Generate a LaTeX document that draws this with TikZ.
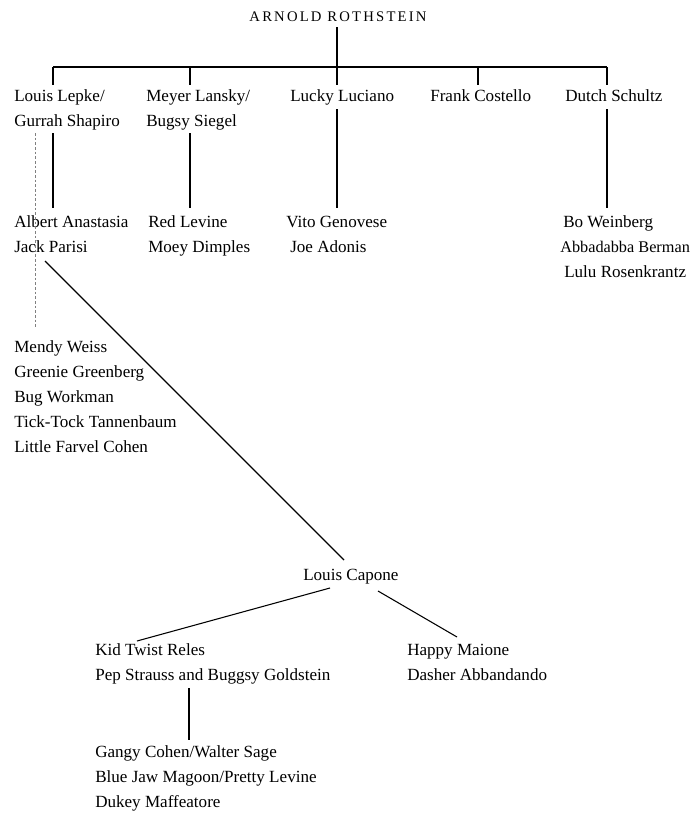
\documentclass[tikz,border=0pt]{standalone}
\usepackage{fontspec}
\setmainfont{Liberation Serif}
\begin{document}
\begin{tikzpicture}[x=0.75pt,y=-0.75pt,
  nm/.style={anchor=base west,inner sep=0pt,font=\fontsize{12.8}{15}\selectfont},
  ln/.style={line width=0.8pt},
  dsh/.style={gray,dashed,line width=0.5pt,dash pattern=on 2pt off 1.5pt}]
\useasboundingbox (0,0) rectangle (694,814);
% head
\node[anchor=base,inner sep=0pt,font=\fontsize{11}{13}\selectfont\addfontfeature{LetterSpace=15}] (arnold) at (338,21) {ARNOLD ROTHSTEIN};
% row 1
\node[nm] (lepkeA) at (14,101) {Louis Lepke/};
\node[nm] (lepkeB) at (14,126) {Gurrah Shapiro};
\node[nm] (lanskyA) at (146,101) {Meyer Lansky/};
\node[nm] (lanskyB) at (146,126) {Bugsy Siegel};
\node[nm] (luciano) at (290,101) {Lucky Luciano};
\node[nm] (costello) at (430,101) {Frank Costello};
\node[nm] (schultz) at (565,101) {Dutch Schultz};
% row 2
\node[nm] (anastasia) at (14,227) {Albert Anastasia};
\node[nm] (parisi) at (14,252) {Jack Parisi};
\node[nm] (redlevine) at (148,227) {Red Levine};
\node[nm] (dimples) at (148,252) {Moey Dimples};
\node[nm] (genovese) at (286,227) {Vito Genovese};
\node[nm] (adonis) at (290,252) {Joe Adonis};
\node[nm] (weinberg) at (563,227) {Bo Weinberg};
\node[nm,font=\fontsize{12.2}{15}\selectfont] (berman) at (560,252) {Abbadabba Berman};
\node[nm] (rosenkrantz) at (564,277) {Lulu Rosenkrantz};
% row 3
\node[nm] (weiss) at (14,352) {Mendy Weiss};
\node[nm] (greenberg) at (14,377) {Greenie Greenberg};
\node[nm] (workman) at (14,402) {Bug Workman};
\node[nm] (tannenbaum) at (14,427) {Tick-Tock Tannenbaum};
\node[nm] (farvel) at (14,452) {Little Farvel Cohen};
% capone
\node[nm] (capone) at (303,580) {Louis Capone};
\node[nm] (reles) at (95,655) {Kid Twist Reles};
\node[nm] (strauss) at (95,680) {Pep Strauss and Buggsy Goldstein};
\node[nm] (maione) at (407,655) {Happy Maione};
\node[nm] (abbandando) at (407,680) {Dasher Abbandando};
\node[nm] (gangy) at (95,757) {Gangy Cohen/Walter Sage};
\node[nm] (bluejaw) at (95,782) {Blue Jaw Magoon/Pretty Levine};
\node[nm] (dukey) at (95,807) {Dukey Maffeatore};
% coordinates
\coordinate (a0) at (337,27);
\coordinate (barM) at (337,67);
\coordinate (barL) at (53,67);
\coordinate (barR) at (607,67);
\coordinate (d1) at (53,85);
\coordinate (d2) at (190,85);
\coordinate (d3) at (337,85);
\coordinate (d4) at (478,85);
\coordinate (d5) at (607,85);
\coordinate (t4) at (478,67);
\coordinate (t2) at (190,67);
\coordinate (v1a) at (53,133); \coordinate (v1b) at (53,208);
\coordinate (v2a) at (190,133); \coordinate (v2b) at (190,208);
\coordinate (v3a) at (337,109); \coordinate (v3b) at (337,208);
\coordinate (v5a) at (607,109); \coordinate (v5b) at (607,208);
\coordinate (dsa) at (35,133); \coordinate (dsb) at (35,328);
\coordinate (diagA) at (45,261); \coordinate (diagB) at (344,560);
\coordinate (cL) at (330,588); \coordinate (rL) at (137,641);
\coordinate (cR) at (378,591); \coordinate (mR) at (457,637);
\coordinate (s1) at (189,688); \coordinate (s2) at (189,740);
% connectors
\draw[ln] (a0) -- (barM);
\draw[ln] (barL) -- (barR);
\draw[ln] (barL) -- (d1);
\draw[ln] (t2) -- (d2);
\draw[ln] (barM) -- (d3);
\draw[ln] (t4) -- (d4);
\draw[ln] (barR) -- (d5);
\draw[ln] (v1a) -- (v1b);
\draw[ln] (v2a) -- (v2b);
\draw[ln] (v3a) -- (v3b);
\draw[ln] (v5a) -- (v5b);
\draw[dsh] (dsa) -- (dsb);
\draw[ln] (diagA) -- (diagB);
\draw[ln] (cL) -- (rL);
\draw[ln] (cR) -- (mR);
\draw[ln] (s1) -- (s2);
\end{tikzpicture}
\end{document}
